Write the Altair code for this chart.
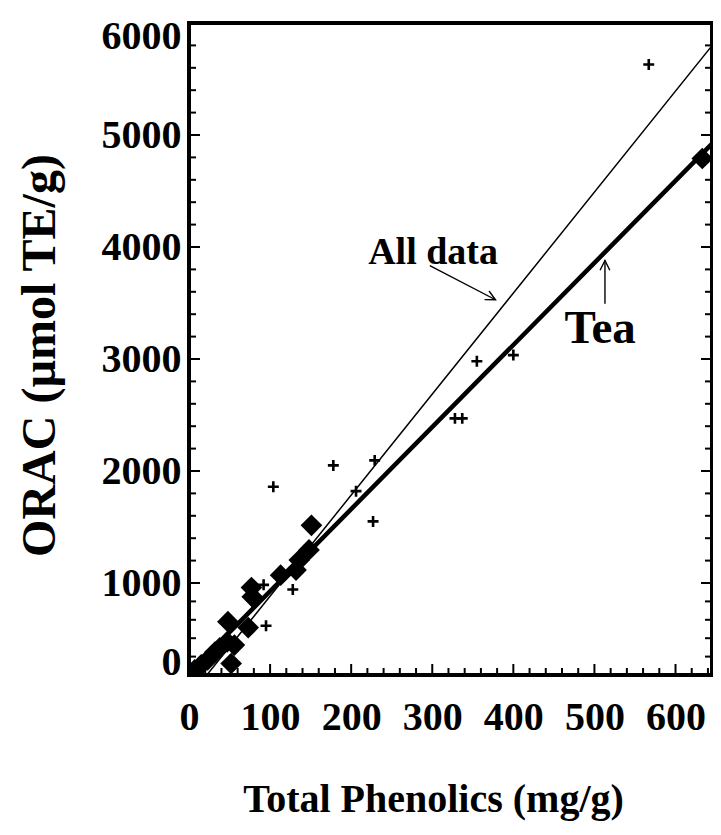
import altair as alt
import pandas as pd

# ---- data ----
# "+" markers: all (non-tea) samples
plus_x = [567, 178, 229, 104, 206, 227, 355, 400, 328, 337, 128, 92, 95, 8, 18, 30]
plus_y = [5630, 2050, 2095, 1860, 1820, 1550, 2980, 3035, 2470, 2470, 930, 980, 535, 90, 160, 260]

# filled diamonds: tea samples
tea_x = [633, 151, 148, 136, 132, 113, 77, 78, 48, 73, 47, 56, 52, 15, 23, 32, 7, 38]
tea_y = [4790, 1515, 1295, 1205, 1115, 1070, 950, 850, 580, 515, 360, 325, 125, 110, 165, 250, 55, 295]

# regression lines
all_line_x = [22, 113, 650]
all_line_y = [0, 1000, 5843]
tea_line_x = [0, 110, 650]
tea_line_y = [20, 1000, 4958]

# annotations
ann_all_text = ["All data"]
ann_all_x = [301]
ann_all_y = [3950]
ann_tea_text = ["Tea"]
ann_tea_x = [507]
ann_tea_y = [3269]
arrow_x1 = [297, 513]
arrow_y1 = [3834, 3493]
arrow_x2 = [378, 513]
arrow_y2 = [3529, 3879]
arrow_angle = [27, 270]

# axis ticks
x_labels = [0, 100, 200, 300, 400, 500, 600]
x_major = [100, 200, 300, 400, 500, 600]
x_minor = [20, 40, 60, 80, 120, 140, 160, 180, 220, 240, 260, 280, 320, 340, 360, 380,
           420, 440, 460, 480, 520, 540, 560, 580, 620, 640]
y_labels = [0, 1000, 2000, 3000, 4000, 5000, 6000]
y_major = [1000, 2000, 3000, 4000, 5000]
y_minor = [200, 400, 600, 800, 1200, 1400, 1600, 1800, 2200, 2400, 2600, 2800,
           3200, 3400, 3600, 3800, 4200, 4400, 4600, 4800, 5200, 5400, 5600, 5800]

W, H = 523, 652
FONT = "Liberation Serif"

xscale = alt.Scale(domain=[0, 645], nice=False, zero=False)
yscale = alt.Scale(domain=[0, 1000, 6000], range=[H, 560, 0], nice=False, zero=False)

xaxis = alt.Axis(values=x_labels, format="d", title="Total Phenolics (mg/g)", ticks=False,
                 tickSize=0, domain=False, grid=False, labelFont=FONT, labelFontWeight="bold",
                 labelFontSize=40, labelColor="black", labelPadding=22, labelFlush=False,
                 titleFont=FONT, titleFontWeight="bold", titleFontSize=40, titleColor="black",
                 titlePadding=42, titleX=244, labelOverlap=False)
yaxis = alt.Axis(values=y_labels, format="d", title="ORAC (µmol TE/g)", ticks=False, tickSize=0,
                 domain=False, grid=False, labelFont=FONT, labelFontWeight="bold",
                 labelFontSize=40, labelColor="black", labelPadding=8, labelFlush=True,
                 labelFlushOffset=7,
                 titleFont=FONT, titleFontWeight="bold", titleFontSize=48, titleColor="black",
                 titlePadding=37, titleY=332, labelOverlap=False)

X = lambda f: alt.X(f, type="quantitative", scale=xscale, axis=xaxis)
Y = lambda f: alt.Y(f, type="quantitative", scale=yscale, axis=yaxis)

plus_df = pd.DataFrame({"x": plus_x, "y": plus_y})
tea_df = pd.DataFrame({"x": tea_x, "y": tea_y})
all_line_df = pd.DataFrame({"x": all_line_x, "y": all_line_y})
tea_line_df = pd.DataFrame({"x": tea_line_x, "y": tea_line_y})
arrow_df = pd.DataFrame({"x": arrow_x1, "y": arrow_y1, "x2": arrow_x2, "y2": arrow_y2,
                         "angle": arrow_angle})

all_line = alt.Chart(all_line_df).mark_line(color="black", strokeWidth=1.5, clip=True).encode(
    x=X("x"), y=Y("y"))
tea_line = alt.Chart(tea_line_df).mark_line(color="black", strokeWidth=4.5, clip=True).encode(
    x=X("x"), y=Y("y"))

tea_pts = alt.Chart(tea_df).mark_point(shape="diamond", filled=True, color="black", opacity=1,
                                       size=470, clip=True).encode(x=X("x"), y=Y("y"))
plus_pts = alt.Chart(plus_df).mark_point(shape="M-1,0L1,0M0,-1L0,1", filled=False, color="black",
                                         opacity=1, strokeWidth=2.6, size=120).encode(
    x=X("x"), y=Y("y"))

arrow_lines = alt.Chart(arrow_df).mark_rule(color="black", strokeWidth=1.4).encode(
    x=X("x"), y=Y("y"), x2="x2", y2="y2")
arrow_heads = alt.Chart(arrow_df).mark_point(shape="M-1,-0.5L0,0L-1,0.5", filled=False,
                                             color="black", opacity=1, strokeWidth=1.4,
                                             size=380).encode(
    x=X("x2"), y=Y("y2"), angle=alt.Angle("angle:Q", scale=None))

txt_all = alt.Chart(pd.DataFrame({"t": ann_all_text, "x": ann_all_x, "y": ann_all_y})).mark_text(
    font=FONT, fontWeight="bold", fontSize=38, color="black").encode(
    x=X("x"), y=Y("y"), text="t:N")
txt_tea = alt.Chart(pd.DataFrame({"t": ann_tea_text, "x": ann_tea_x, "y": ann_tea_y})).mark_text(
    font=FONT, fontWeight="bold", fontSize=47, color="black").encode(
    x=X("x"), y=Y("y"), text="t:N")

# inward tick marks
def ytick_layer(vals, length, right=False):
    d = pd.DataFrame({"v": vals})
    x0, x1 = (W, W - length) if right else (0, length)
    return alt.Chart(d).mark_rule(color="black", strokeWidth=2).encode(
        y=Y("v"), x=alt.value(x0), x2=alt.value(x1))

def xtick_layer(vals, length):
    d = pd.DataFrame({"v": vals})
    return alt.Chart(d).mark_rule(color="black", strokeWidth=2).encode(
        x=X("v"), y=alt.value(H), y2=alt.value(H - length))

ticks = [ytick_layer(y_major, 11), ytick_layer(y_minor, 7),
         ytick_layer(y_major, 11, True), ytick_layer(y_minor, 7, True),
         xtick_layer(x_major, 11), xtick_layer(x_minor, 7)]

chart = alt.layer(
    all_line, tea_line, tea_pts, plus_pts, arrow_lines, arrow_heads, txt_all, txt_tea, *ticks
).properties(
    width=W, height=H,
    autosize=alt.AutoSizeParams(type="none"),
    padding={"left": 181, "top": 15, "right": 1, "bottom": 150},
    background="white",
).configure_view(stroke="black", strokeWidth=4)

chart.save("out.html", embed_options={"renderer": "svg", "actions": False})
